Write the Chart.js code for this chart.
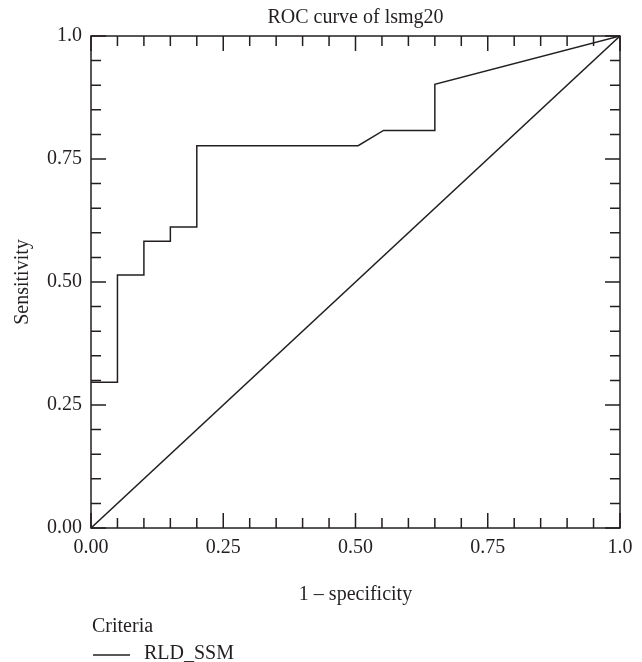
<!DOCTYPE html>
<html>
<head>
<meta charset="utf-8">
<script src="https://cdn.jsdelivr.net/npm/chart.js@4"></script>
<style>
    body { margin: 0; background: #fff; }
    #wrap { width: 642px; height: 662px; }
</style>
</head>
<body>
<div id="wrap"><canvas id="rocChart" width="642" height="662"></canvas></div>
<script>
// ═══ data ═══
const rocFpr  = [0, 0.05, 0.05, 0.10, 0.10, 0.15, 0.15, 0.20, 0.20, 0.505, 0.553, 0.65, 0.65, 1.0];
const rocTpr  = [0.296, 0.296, 0.514, 0.514, 0.583, 0.583, 0.612, 0.612, 0.777, 0.777, 0.808, 0.808, 0.902, 1.0];
const diagFpr = [0, 1];
const diagTpr = [0, 1];

const majorValues = [0, 0.25, 0.5, 0.75, 1];
const xTickLabels = ['0.00', '0.25', '0.50', '0.75', '1.0'];
const yTickLabels = ['0.00', '0.25', '0.50', '0.75', '1.0'];

const seriesLabel = 'RLD_SSM';
const legendTitle = 'Criteria';

const INK  = '#231f20';
const FONT = '"Liberation Serif", "DejaVu Serif", serif';

const zip = (xs, ys) => xs.map((x, i) => ({ x, y: ys[i] }));

function majorLabel(value, labels) {
    const i = majorValues.findIndex(m => Math.abs(m - value) < 1e-6);
    return i >= 0 ? labels[i] : '';
}

// frame + inward tick marks on all four sides
const frameTicks = {
    id: 'frameTicks',
    afterDatasetsDraw(chart) {
        const { ctx, chartArea: a } = chart;
        const xs = chart.scales.x, ys = chart.scales.y;
        ctx.save();
        ctx.strokeStyle = INK;
        ctx.lineWidth = 1.5;
        ctx.strokeRect(a.left, a.top, a.right - a.left, a.bottom - a.top);
        ctx.beginPath();
        xs.ticks.forEach(t => {
            const px  = xs.getPixelForValue(t.value);
            const len = majorLabel(t.value, xTickLabels) ? 15 : 10;
            ctx.moveTo(px, a.bottom); ctx.lineTo(px, a.bottom - len);
            ctx.moveTo(px, a.top);    ctx.lineTo(px, a.top + len);
        });
        ys.ticks.forEach(t => {
            const py  = ys.getPixelForValue(t.value);
            const len = majorLabel(t.value, yTickLabels) ? 15 : 10;
            ctx.moveTo(a.left, py);  ctx.lineTo(a.left + len, py);
            ctx.moveTo(a.right, py); ctx.lineTo(a.right - len, py);
        });
        ctx.stroke();
        ctx.restore();
    }
};

// legend below the axis title
const criteriaLegend = {
    id: 'criteriaLegend',
    afterDraw(chart) {
        const { ctx } = chart;
        const left = chart.chartArea.left;
        const ds   = chart.data.datasets[0];
        ctx.save();
        ctx.font = '20px ' + FONT;
        ctx.fillStyle = INK;
        ctx.textBaseline = 'alphabetic';
        ctx.fillText(legendTitle, left + 1, 632);
        ctx.strokeStyle = ds.borderColor;
        ctx.lineWidth = ds.borderWidth;
        ctx.beginPath();
        ctx.moveTo(left + 2, 655);
        ctx.lineTo(left + 39, 655);
        ctx.stroke();
        ctx.fillText(ds.label, left + 53, 659);
        ctx.restore();
    }
};

const tickFont = { family: FONT, size: 20 };

new Chart(document.getElementById('rocChart'), {
    type: 'line',
    data: {
        datasets: [{
            label: seriesLabel,
            data: zip(rocFpr, rocTpr),
            borderColor: INK,
            borderWidth: 1.5,
            pointRadius: 0,
            tension: 0,
            fill: false
        }, {
            label: 'reference',
            data: zip(diagFpr, diagTpr),
            borderColor: INK,
            borderWidth: 1.5,
            pointRadius: 0,
            fill: false
        }]
    },
    options: {
        responsive: false,
        animation: false,
        layout: { padding: { top: 0, right: 22, bottom: 55, left: 0 } },
        scales: {
            x: {
                type: 'linear', min: 0, max: 1,
                grid: { display: false, drawTicks: false },
                border: { display: false },
                ticks: {
                    stepSize: 0.05, autoSkip: false, maxRotation: 0, padding: 8,
                    color: INK, font: tickFont,
                    callback: v => majorLabel(v, xTickLabels)
                },
                title: {
                    display: true, text: '1 – specificity', color: INK, font: tickFont,
                    padding: { top: 23, bottom: 0 }
                },
                afterFit(scale) { scale.height = 79; }
            },
            y: {
                type: 'linear', min: 0, max: 1,
                grid: { display: false, drawTicks: false },
                border: { display: false },
                ticks: {
                    stepSize: 0.05, autoSkip: false, padding: 9,
                    color: INK, font: tickFont,
                    callback: v => majorLabel(v, yTickLabels)
                },
                title: {
                    display: true, text: 'Sensitivity', color: INK, font: tickFont,
                    padding: { top: 11, bottom: 0 }
                },
                afterFit(scale) { scale.width = 91; }
            }
        },
        plugins: {
            legend: { display: false },
            tooltip: { enabled: false },
            title: {
                display: true, text: 'ROC curve of lsmg20', fullSize: false,
                color: INK, font: { family: FONT, size: 20, weight: 'normal' },
                padding: { top: 6, bottom: 6 }
            }
        }
    },
    plugins: [frameTicks, criteriaLegend]
});
</script>
</body>
</html>
